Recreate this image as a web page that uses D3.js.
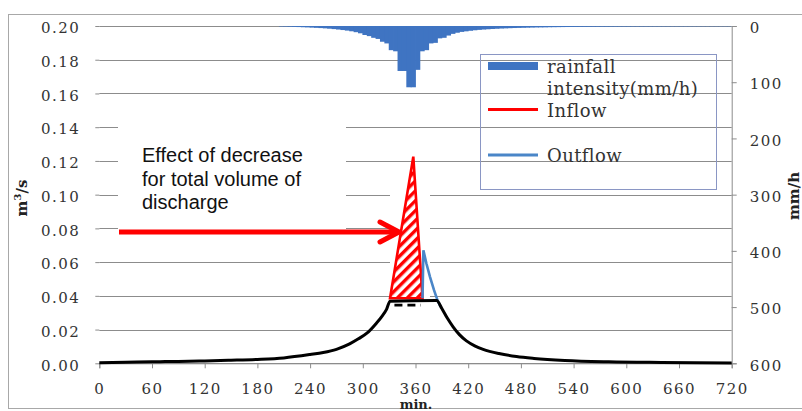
<!DOCTYPE html>
<html>
<head>
<meta charset="utf-8">
<script src="https://cdn.jsdelivr.net/npm/d3@7/dist/d3.min.js"></script>
<style>
  html, body { margin: 0; padding: 0; background: #fff; }
  svg { display: block; }
</style>
</head>
<body>
<svg id="chart" width="802" height="411"></svg>
<script>
// Time axis (minutes) and tick labels
const minuteTicks = [0, 60, 120, 180, 240, 300, 360, 420, 480, 540, 600, 660, 720];
const flowTicks = [0, 0.02, 0.04, 0.06, 0.08, 0.10, 0.12, 0.14, 0.16, 0.18, 0.20];
const rainTicks = [0, 100, 200, 300, 400, 500, 600];

// Rainfall intensity (mm/h), 5-minute blocks starting at rainStart
const rainStart = [205,210,215,220,225,230,235,240,245,250,255,260,265,270,275,280,285,290,295,300,
  305,310,315,320,325,330,335,340,345,350,355,360,365,370,375,380,385,390,395,400,
  405,410,415,420,425,430,435,440,445,450,455,460,465,470,475,480,485,490,495,500,
  505,510,515,520,525,530,535,540,545,550,555,560,565,570,575,580,585,590,595,600,
  605,610,615,620,625,630,635,640,645,650,655,660,665,670,675,680,685,690,695,700,
  705,710,715];
const rainIntensity = [0.8,1.0,1.3,1.6,1.9,2.2,2.5,2.9,3.3,3.7,4.2,4.8,5.5,6.3,7.2,8.2,9.4,11,13,16,
  18,21,23,28,31,43,45,80,80,109,109,78,45,43,31,30,22,21,17,14,
  12,10.5,9.5,8.5,7.6,6.9,6.3,5.8,5.3,4.9,4.5,4.2,3.9,3.6,3.4,3.2,3.0,2.8,2.6,2.5,
  2.4,2.2,2.1,2.0,1.9,1.8,1.7,1.6,1.5,1.45,1.4,1.35,1.3,1.25,1.2,1.15,1.1,1.05,1.0,1.0,
  0.95,0.9,0.9,0.85,0.85,0.8,0.8,0.75,0.75,0.7,0.7,0.7,0.65,0.65,0.6,0.6,0.6,0.55,0.55,0.55,
  0.5,0.5,0.5];
const rainStep = 5;

// Discharge after storage (black curve), m3/s
const dischargeT = [0,30,60,90,120,150,180,210,240,255,270,285,295,305,315,322,327,331,384,390,396,403,410,418,428,437,455,475,495,530,580,640,720];
const dischargeQ = [0.0003,0.0006,0.0009,0.0011,0.0014,0.0018,0.0023,0.0032,0.0052,0.0064,0.0083,0.0115,0.0145,0.018,0.0235,0.028,0.032,0.0368,0.0372,0.0325,0.027,0.0215,0.017,0.0133,0.0102,0.0083,0.0058,0.0040,0.0029,0.0017,0.0009,0.0005,0.0002];

// Dashed level under the peak
const dashedT = [336, 366];
const dashedQ = [0.0345, 0.0345];

// Inflow peak (hatched triangle)
const inflowT = [331, 357.5, 368];
const inflowQ = [0.0386, 0.1225, 0.0386];

// Outflow peak
const outflowT = [368, 369, 372.5, 376.5, 381, 385, 388.5];
const outflowQ = [0.0386, 0.067, 0.059, 0.0513, 0.0435, 0.0375, 0.0335];

const annotationLines = ["Effect of decrease", "for total volume of", "discharge"];

const svg = d3.select("#chart");
const serif = "'DejaVu Serif', serif";
const sans = "'Liberation Sans', Arial, sans-serif";

const x = d3.scaleLinear().domain([0, 720]).range([99.3, 731.7]);
const yL = d3.scaleLinear().domain([0, 0.2]).range([363.3, 26]);
const yR = d3.scaleLinear().domain([0, 600]).range([26, 363.3]);

// Outer frame
svg.append("rect").attr("x", 8.5).attr("y", 14.5).attr("width", 900).attr("height", 394)
  .attr("fill", "none").attr("stroke", "#a8a8a8").attr("stroke-width", 1);

// Horizontal gridlines
svg.append("g").selectAll("line").data(flowTicks).join("line")
  .attr("x1", x(0)).attr("x2", x(720))
  .attr("y1", d => Math.round(yL(d)) + 0.5).attr("y2", d => Math.round(yL(d)) + 0.5)
  .attr("stroke", "#8c8c8c").attr("stroke-width", 1);

// Rainfall bars hanging from the top (slight overlap so the blocks read as one shape)
svg.append("g").selectAll("rect").data(rainStart).join("rect")
  .attr("x", (d) => x(d) - 0.4)
  .attr("width", (d) => x(d + rainStep) - x(d) + 0.8)
  .attr("y", yR(0))
  .attr("height", (d, i) => yR(rainIntensity[i]) - yR(0))
  .attr("fill", "#3f74c2");

// Left axis
const leftAxis = svg.append("g").attr("transform", `translate(${x(0)},0)`)
  .call(d3.axisLeft(yL).tickValues(flowTicks).tickFormat(d3.format(".2f")).tickSize(4).tickPadding(15));
leftAxis.select(".domain").remove();
leftAxis.selectAll("line").attr("stroke", "#8c8c8c");
leftAxis.selectAll("text").attr("font-family", serif).attr("font-size", 15)
  .attr("letter-spacing", 1.5).attr("fill", "#333").attr("dy", "0.45em");

// Bottom axis
const bottomAxis = svg.append("g").attr("transform", `translate(0,${yL(0)})`)
  .call(d3.axisBottom(x).tickValues(minuteTicks).tickSize(5).tickPadding(15));
bottomAxis.select(".domain").attr("stroke", "#8c8c8c");
bottomAxis.selectAll("line").attr("stroke", "#8c8c8c");
bottomAxis.selectAll("text").attr("font-family", serif).attr("font-size", 15)
  .attr("letter-spacing", 1.5).attr("fill", "#333");

// Right axis
const rightAxis = svg.append("g").attr("transform", `translate(${x(720)},0)`)
  .call(d3.axisRight(yR).tickValues(rainTicks).tickSize(5).tickPadding(13));
rightAxis.select(".domain").attr("stroke", "#8c8c8c");
rightAxis.selectAll("line").attr("stroke", "#8c8c8c");
rightAxis.selectAll("text").attr("font-family", serif).attr("font-size", 15)
  .attr("letter-spacing", 1.5).attr("fill", "#333").attr("dy", "0.45em");

// Axis titles
const leftTitle = svg.append("text")
  .attr("transform", "translate(27,198) rotate(-90)")
  .attr("text-anchor", "middle").attr("font-family", serif).attr("font-weight", "bold")
  .attr("font-size", 15).attr("fill", "#222");
leftTitle.append("tspan").text("m");
leftTitle.append("tspan").text("3").attr("font-size", 10).attr("dy", -6);
leftTitle.append("tspan").text("/s").attr("dy", 6);

svg.append("text")
  .attr("transform", "translate(799,196) rotate(-90)")
  .attr("text-anchor", "middle").attr("font-family", serif).attr("font-weight", "bold")
  .attr("font-size", 15).attr("fill", "#222").text("mm/h");

svg.append("text").attr("x", 416).attr("y", 408.5).attr("text-anchor", "middle")
  .attr("font-family", serif).attr("font-weight", "bold").attr("font-size", 13)
  .attr("fill", "#222").text("min.");

// Annotation box and text
svg.append("rect").attr("x", 118).attr("y", 112).attr("width", 228).attr("height", 124).attr("fill", "#fff");
svg.append("g").selectAll("text").data(annotationLines).join("text")
  .attr("x", 142).attr("y", (d, i) => 162 + i * 23.7)
  .attr("font-family", sans).attr("font-size", 20).attr("fill", "#111").text(d => d);

// Hatched inflow peak
const defs = svg.append("defs");
defs.append("pattern").attr("id", "hatch").attr("patternUnits", "userSpaceOnUse")
  .attr("width", 7).attr("height", 7).attr("patternTransform", "rotate(45)")
  .append("rect").attr("x", 0).attr("y", 0).attr("width", 3.4).attr("height", 7).attr("fill", "#ff0000");

svg.append("rect").attr("x", 390).attr("y", 170).attr("width", 40).attr("height", 128).attr("fill", "#fff");

const inflowPts = inflowT.map((t, i) => [x(t), yL(inflowQ[i])]);
svg.append("path")
  .attr("d", d3.line()(inflowPts) + "Z")
  .attr("fill", "url(#hatch)").attr("stroke", "#ff0000").attr("stroke-width", 2.6)
  .attr("stroke-linejoin", "miter");

// Outflow peak
svg.append("path")
  .datum(outflowT.map((t, i) => [x(t), yL(outflowQ[i])]))
  .attr("d", d3.line())
  .attr("fill", "none").attr("stroke", "#4a86c8").attr("stroke-width", 2.6);

// Discharge curve
svg.append("path")
  .datum(dischargeT.map((t, i) => [x(t), yL(dischargeQ[i])]))
  .attr("d", d3.line().curve(d3.curveMonotoneX))
  .attr("fill", "none").attr("stroke", "#000").attr("stroke-width", 3);

svg.append("path")
  .datum(dashedT.map((t, i) => [x(t), yL(dashedQ[i])]))
  .attr("d", d3.line())
  .attr("fill", "none").attr("stroke", "#000").attr("stroke-width", 2.6)
  .attr("stroke-dasharray", "8,5");

// Arrow pointing at the removed volume
const arrowY = 232;
svg.append("line").attr("x1", 119).attr("x2", 396).attr("y1", arrowY).attr("y2", arrowY)
  .attr("stroke", "#ff0000").attr("stroke-width", 5);
svg.append("path")
  .attr("d", `M380,${arrowY - 10}L399,${arrowY}L380,${arrowY + 10}`)
  .attr("fill", "none").attr("stroke", "#ff0000").attr("stroke-width", 5)
  .attr("stroke-linecap", "round").attr("stroke-linejoin", "round");

// Legend
const legend = svg.append("g");
legend.append("rect").attr("x", 480.5).attr("y", 54.5).attr("width", 236).attr("height", 135)
  .attr("fill", "none").attr("stroke", "#8a96c4").attr("stroke-width", 1);
legend.append("rect").attr("x", 488).attr("y", 62).attr("width", 50).attr("height", 8).attr("fill", "#3f74c2");
legend.append("line").attr("x1", 488).attr("x2", 538).attr("y1", 109.5).attr("y2", 109.5)
  .attr("stroke", "#ff0000").attr("stroke-width", 3);
legend.append("line").attr("x1", 488).attr("x2", 538).attr("y1", 155).attr("y2", 155)
  .attr("stroke", "#4a86c8").attr("stroke-width", 3);
const legendText = [["rainfall", 73], ["intensity(mm/h)", 94.5], ["Inflow", 116.5], ["Outflow", 161.5]];
legend.selectAll("text.lab").data(legendText).join("text").attr("class", "lab")
  .attr("x", 547).attr("y", d => d[1])
  .attr("font-family", serif).attr("font-size", 18).attr("letter-spacing", 0.4)
  .attr("fill", "#333").text(d => d[0]);
</script>
</body>
</html>
